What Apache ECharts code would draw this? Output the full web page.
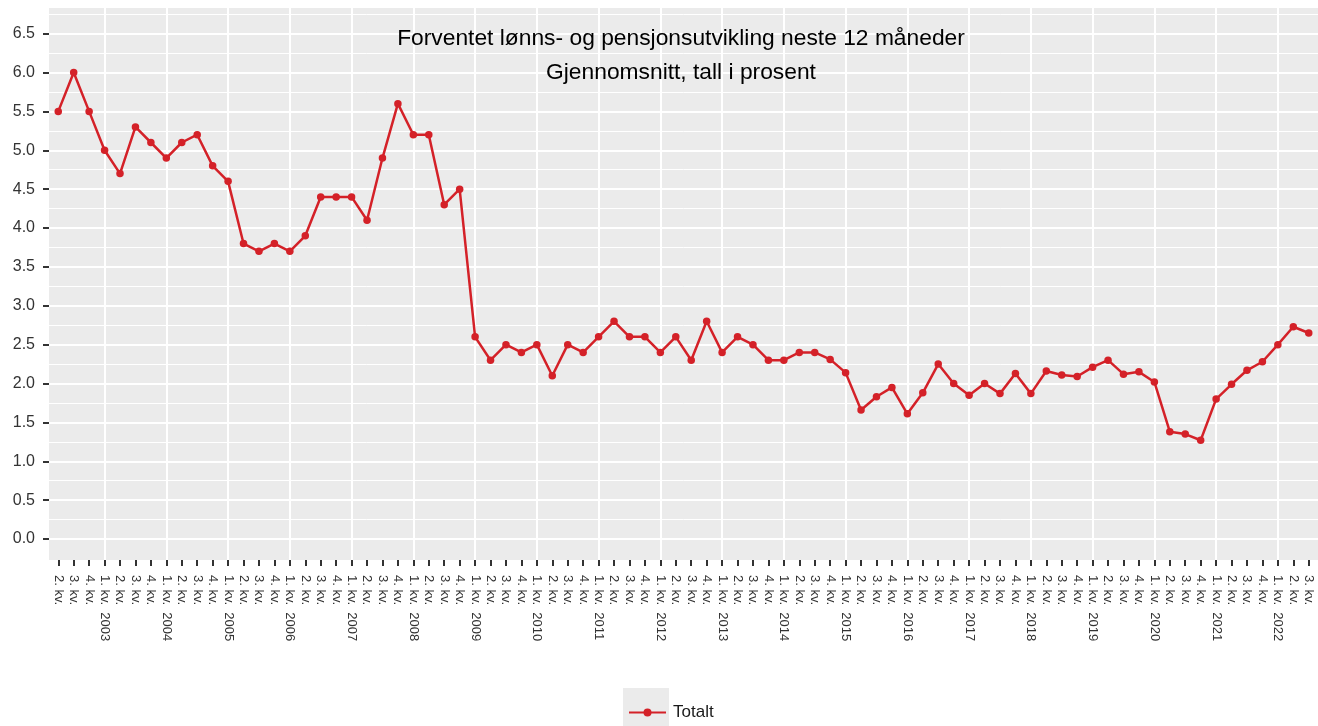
<!DOCTYPE html>
<html>
<head>
<meta charset="utf-8">
<title>Forventet lønns- og pensjonsutvikling</title>
<script src="https://cdn.jsdelivr.net/npm/echarts@6/dist/echarts.min.js"></script>
<style>
  html, body { margin: 0; padding: 0; background: #ffffff; }
  #chart { width: 1318px; height: 726px; }
</style>
</head>
<body>
<div id="chart"></div>
<script>
// Quarterly survey: expected wage and pension growth over the next 12 months (percent)
const quarterNames = ['1. kv.', '2. kv.', '3. kv.', '4. kv.'];
const years = [2002, 2003, 2004, 2005, 2006, 2007, 2008, 2009, 2010, 2011, 2012,
               2013, 2014, 2015, 2016, 2017, 2018, 2019, 2020, 2021, 2022];
const firstPeriod = { year: 2002, quarter: 2 };
const lastPeriod = { year: 2022, quarter: 3 };

const totalt = [
  5.5, 6.0, 5.5,            // 2002 (2.-4. kv.)
  5.0, 4.7, 5.3, 5.1,       // 2003
  4.9, 5.1, 5.2, 4.8,       // 2004
  4.6, 3.8, 3.7, 3.8,       // 2005
  3.7, 3.9, 4.4, 4.4,       // 2006
  4.4, 4.1, 4.9, 5.6,       // 2007
  5.2, 5.2, 4.3, 4.5,       // 2008
  2.6, 2.3, 2.5, 2.4,       // 2009
  2.5, 2.1, 2.5, 2.4,       // 2010
  2.6, 2.8, 2.6, 2.6,       // 2011
  2.4, 2.6, 2.3, 2.8,       // 2012
  2.4, 2.6, 2.5, 2.3,       // 2013
  2.3, 2.4, 2.4, 2.31,      // 2014
  2.14, 1.66, 1.83, 1.95,   // 2015
  1.61, 1.88, 2.25, 2.00,   // 2016
  1.85, 2.00, 1.87, 2.13,   // 2017
  1.87, 2.16, 2.11, 2.09,   // 2018
  2.21, 2.30, 2.12, 2.15,   // 2019
  2.02, 1.38, 1.35, 1.27,   // 2020
  1.80, 1.99, 2.17, 2.28,   // 2021
  2.50, 2.73, 2.65          // 2022 (1.-3. kv.)
];

const yMajorTicks = [0, 0.5, 1, 1.5, 2, 2.5, 3, 3.5, 4, 4.5, 5, 5.5, 6, 6.5];
const yMinorTicks = [0.25, 0.75, 1.25, 1.75, 2.25, 2.75, 3.25, 3.75, 4.25, 4.75,
                     5.25, 5.75, 6.25, 6.75];

// Category labels: quarter name, with the year appended on the first quarter
const categories = [];
const yearStartIndex = [];
years.forEach(function (y) {
  quarterNames.forEach(function (name, qi) {
    const q = qi + 1;
    if (y === firstPeriod.year && q < firstPeriod.quarter) return;
    if (y === lastPeriod.year && q > lastPeriod.quarter) return;
    if (q === 1) {
      yearStartIndex.push(categories.length);
      categories.push(name + '  ' + y);
    } else {
      categories.push(name);
    }
  });
});

const positions = categories.map(function (_, i) { return i; });
const seriesData = totalt.map(function (v, i) { return [i, v]; });

const FONT = '"Liberation Sans", Arial, Helvetica, sans-serif';
const RED = '#d42128';

const chart = echarts.init(document.getElementById('chart'), null, { renderer: 'canvas' });

chart.setOption({
  animation: false,
  backgroundColor: '#ffffff',
  title: {
    text: 'Forventet lønns- og pensjonsutvikling neste 12 måneder\nGjennomsnitt, tall i prosent',
    left: 676,
    top: 17,
    textAlign: 'center',
    textStyle: {
      fontFamily: FONT,
      fontSize: 22.8,
      fontWeight: 'normal',
      color: '#000000',
      lineHeight: 34
    }
  },
  grid: {
    left: 49,
    right: -10,
    top: 8,
    bottom: 166,
    show: true,
    backgroundColor: '#ebebeb',
    borderWidth: 0,
    containLabel: false
  },
  legend: {
    data: ['Totalt'],
    left: 623,
    top: 699,
    itemWidth: 37,
    itemHeight: 10,
    selectedMode: false,
    textStyle: {
      fontFamily: FONT,
      fontSize: 17,
      color: '#1a1a1a',
      padding: [0, 0, 0, 2]
    }
  },
  graphic: [{
    type: 'rect',
    z: -1,
    silent: true,
    shape: { x: 623, y: 688, width: 46, height: 48 },
    style: { fill: '#ebebeb' }
  }],
  xAxis: [{
    type: 'value',
    min: -0.6,
    max: 81.6,
    position: 'bottom',
    axisLine: { show: false, onZero: false },
    axisTick: {
      show: true,
      inside: false,
      customValues: positions,
      length: 6,
      lineStyle: { color: '#333333', width: 2 }
    },
    axisLabel: {
      customValues: positions,
      rotate: -90,
      margin: 15,
      fontFamily: FONT,
      fontSize: 13,
      color: '#333333',
      formatter: function (v) { return categories[Math.round(v)]; }
    },
    splitLine: { show: false }
  }, {
    type: 'value',
    min: -0.6,
    max: 81.6,
    position: 'bottom',
    axisLine: { show: false, onZero: false },
    axisTick: { show: false, customValues: yearStartIndex },
    axisLabel: { show: false, customValues: yearStartIndex },
    splitLine: { show: true, lineStyle: { color: '#ffffff', width: 2 } }
  }],
  yAxis: [{
    type: 'value',
    min: -0.27,
    max: 6.83,
    position: 'left',
    axisLine: { show: false, onZero: false },
    axisTick: {
      show: true,
      inside: false,
      customValues: yMajorTicks,
      length: 6,
      lineStyle: { color: '#333333', width: 2 }
    },
    axisLabel: {
      customValues: yMajorTicks,
      margin: 14,
      fontFamily: FONT,
      fontSize: 16,
      color: '#333333',
      formatter: function (v) { return v.toFixed(1); }
    },
    splitLine: { show: true, lineStyle: { color: '#ffffff', width: 2 } }
  }, {
    type: 'value',
    min: -0.27,
    max: 6.83,
    position: 'left',
    axisLine: { show: false, onZero: false },
    axisTick: { show: false, customValues: yMinorTicks },
    axisLabel: { show: false, customValues: yMinorTicks },
    splitLine: { show: true, lineStyle: { color: '#ffffff', width: 1 } }
  }],
  series: [{
    name: 'Totalt',
    type: 'line',
    xAxisIndex: 0,
    yAxisIndex: 0,
    data: seriesData,
    symbol: 'circle',
    symbolSize: 7.5,
    showSymbol: true,
    lineStyle: { color: RED, width: 2.5 },
    itemStyle: { color: RED },
    emphasis: { disabled: true },
    z: 5
  }]
});
</script>
</body>
</html>
